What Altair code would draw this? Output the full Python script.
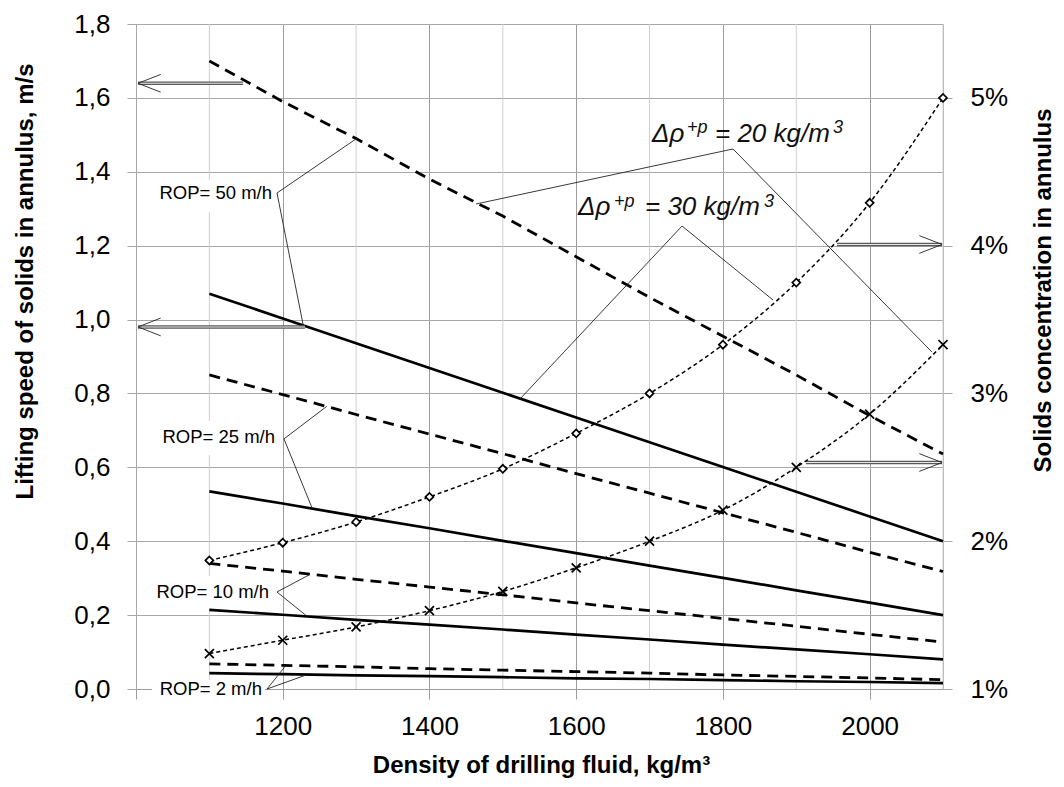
import altair as alt
import pandas as pd

# ---------------- data ----------------
density = [1100, 1200, 1300, 1400, 1500, 1600, 1700, 1800, 1900, 2000, 2100]

# lifting speed of solids in annulus, m/s  (dashed = Δρ 20 kg/m3, solid = Δρ 30 kg/m3)
speed_dashed_50 = [1.70, 1.59, 1.49, 1.38, 1.28, 1.17, 1.06, 0.955, 0.85, 0.74, 0.636]
speed_solid_50 = [1.07, 1.003, 0.936, 0.869, 0.802, 0.735, 0.668, 0.601, 0.534, 0.467, 0.40]
speed_dashed_25 = [0.85, 0.797, 0.743, 0.69, 0.637, 0.583, 0.53, 0.477, 0.424, 0.37, 0.318]
speed_solid_25 = [0.535, 0.502, 0.468, 0.435, 0.401, 0.368, 0.334, 0.301, 0.267, 0.234, 0.20]
speed_dashed_10 = [0.34, 0.319, 0.297, 0.276, 0.255, 0.233, 0.212, 0.191, 0.170, 0.148, 0.127]
speed_solid_10 = [0.214, 0.201, 0.187, 0.174, 0.161, 0.147, 0.134, 0.120, 0.107, 0.094, 0.080]
speed_dashed_2 = [0.068, 0.064, 0.060, 0.055, 0.051, 0.047, 0.043, 0.038, 0.034, 0.030, 0.025]
speed_solid_2 = [0.043, 0.040, 0.037, 0.035, 0.032, 0.029, 0.027, 0.024, 0.021, 0.019, 0.016]

# solids concentration in annulus, %
conc_20 = [1.24, 1.33, 1.42, 1.53, 1.66, 1.82, 2.00, 2.21, 2.50, 2.86, 3.33]
conc_30 = [1.87, 1.99, 2.13, 2.30, 2.49, 2.73, 3.00, 3.33, 3.75, 4.29, 5.00]

# tick values
x_major_values = [1000, 1200, 1400, 1600, 1800, 2000]
x_minor_values = [1100, 1300, 1500, 1700, 1900, 2100]
y_left_values = [0, 0.2, 0.4, 0.6, 0.8, 1.0, 1.2, 1.4, 1.6, 1.8]
y_right_values = [0.01, 0.02, 0.03, 0.04, 0.05]

# annotation texts
rop_labels = ["ROP= 50 m/h", "ROP= 25 m/h", "ROP= 10 m/h", "ROP= 2 m/h"]
drho_main = ["Δρ", "= 20 kg/m", "Δρ", "= 30 kg/m"]
drho_sup = ["+p", "3", "+p", "3"]

# annotation positions (data units: density, speed)
rop_label_x = [1185.4, 1189.5, 1181.3, 1171.7]
rop_label_y = [1.3426, 0.6821, 0.2626, 0.0]
box_x = [1019.1, 1023.2, 1016.4, 1021.8]
box_x2 = [1190.8, 1194.9, 1186.7, 1175.8]
box_y = [1.3778, 0.7254, 0.3059, 0.0244]
box_y2 = [1.2912, 0.6334, 0.2192, -0.0298]

leader_x = [1192.2, 1192.2, 1201.7, 1201.7, 1192.2, 1192.2, 1178.6, 1178.6,
            1813.8, 1813.8, 1744.3, 1744.3]
leader_y = [1.3426, 1.3426, 0.677, 0.677, 0.2626, 0.2626, 0.0, 0.0,
            1.4617, 1.4617, 1.2532, 1.2532]
leader_x2 = [1300, 1228, 1260, 1240, 1237, 1233, 1204, 1232,
             1463.5, 2085, 1523.4, 1868.3]
leader_y2 = [1.489, 0.984, 0.765, 0.490, 0.310, 0.197, 0.063, 0.038,
             1.3128, 0.912, 0.785, 1.0529]

drho_main_x = [1703.4, 1789.2, 1602.5, 1693.8]
drho_main_y = [1.4814, 1.4814, 1.2830, 1.2830]
drho_sup_x = [1751.1, 1950.1, 1651.6, 1856.0]
drho_sup_y = [1.5049, 1.5049, 1.3055, 1.3055]

arrow_x = [1145.9, 1230.4, 1955.6, 1913.3]
arrow_x2 = [1002.7, 1002.7, 2098.7, 2098.7]
arrow_y = [1.6395, 0.980, 1.2032, 0.613]
head_dx = [31, 31, -31, -31]

# ---------------- tables ----------------
def series(vals, rop):
    return pd.DataFrame({"density": density, "speed": vals, "rop": rop})

df_dashed = pd.concat([series(speed_dashed_50, 50), series(speed_dashed_25, 25),
                       series(speed_dashed_10, 10), series(speed_dashed_2, 2)])
df_solid = pd.concat([series(speed_solid_50, 50), series(speed_solid_25, 25),
                      series(speed_solid_10, 10), series(speed_solid_2, 2)])
df_c20 = pd.DataFrame({"density": density, "conc": [v / 100 for v in conc_20]})
df_c30 = pd.DataFrame({"density": density, "conc": [v / 100 for v in conc_30]})
df_minor = pd.DataFrame({"x": x_minor_values})

df_rop = pd.DataFrame({"x": rop_label_x, "y": rop_label_y, "label": rop_labels})
df_box = pd.DataFrame({"x": box_x, "x2": box_x2, "y": box_y, "y2": box_y2})
df_lead = pd.DataFrame({"x": leader_x, "y": leader_y, "x2": leader_x2, "y2": leader_y2})
df_dmain = pd.DataFrame({"x": drho_main_x, "y": drho_main_y, "label": drho_main})
df_dsup = pd.DataFrame({"x": drho_sup_x, "y": drho_sup_y, "label": drho_sup})
df_shaft = pd.DataFrame({"x": arrow_x, "x2": arrow_x2, "y": arrow_y})
head_rows = []
for tx, ty, dx in zip(arrow_x2, arrow_y, head_dx):
    head_rows.append({"x": tx, "y": ty, "x2": tx + dx, "y2": ty + 0.024})
    head_rows.append({"x": tx, "y": ty, "x2": tx + dx, "y2": ty - 0.024})
df_head = pd.DataFrame(head_rows)

# ---------------- scales & axes ----------------
FONT = "Liberation Sans"
GRID = "#a8a8a8"
GRID_X = "#9c9c9c"
GRID_MINOR = "#cfcfcf"

x_axis = alt.Axis(
    values=x_major_values,
    labelExpr="datum.value == 1000 ? '' : '' + datum.value",
    labelFlush=False, labelOverlap=False,
    labelFont=FONT, labelFontSize=26, labelColor="#000", labelPadding=14,
    grid=True, gridColor=GRID_X, gridWidth=1,
    tickColor=GRID_X, tickSize=10, tickWidth=1,
    domainColor=GRID_X, domainWidth=1,
    title="Density of drilling fluid, kg/m³",
    titleFont=FONT, titleFontSize=24, titleFontWeight="bold", titleColor="#000",
    titleX=405, titleY=83, titleAlign="center", titleBaseline="alphabetic",
)

y_axis = alt.Axis(
    values=y_left_values,
    labelExpr="replace(format(datum.value, '.1f'), '.', ',')",
    labelFont=FONT, labelFontSize=26, labelColor="#000", labelPadding=17,
    grid=True, gridColor=GRID, gridWidth=1,
    tickColor=GRID, tickSize=9, tickWidth=1,
    domainColor=GRID, domainWidth=1,
    title="Lifting speed of solids in annulus, m/s",
    titleFont=FONT, titleFontSize=24, titleFontWeight="bold", titleColor="#000",
    titleAngle=270, titleX=-104, titleY=257, titleAlign="center", titleBaseline="alphabetic",
)

y_axis_r = alt.Axis(
    orient="right",
    values=y_right_values, format=".0%",
    labelFont=FONT, labelFontSize=26, labelColor="#000", labelPadding=18,
    grid=False,
    tickColor=GRID, tickSize=9, tickWidth=1,
    domainColor=GRID, domainWidth=1,
    title="Solids concentration in annulus",
    titleFont=FONT, titleFontSize=24, titleFontWeight="bold", titleColor="#000",
    titleAngle=270, titleX=107, titleY=266, titleAlign="center", titleBaseline="alphabetic",
)


def xs():
    return alt.Scale(domain=[1000, 2100], nice=False, zero=False)


def ys():
    return alt.Scale(domain=[0, 1.8], nice=False, zero=True)


def ys_r():
    return alt.Scale(domain=[0.01, 0.055], nice=False, zero=False)


Xn = alt.X("x:Q", scale=xs(), axis=None)
Yn = alt.Y("y:Q", scale=ys(), axis=None)
Xd = alt.X("density:Q", scale=xs(), axis=None)

# ---------------- layers ----------------
minor_grid = alt.Chart(df_minor).mark_rule(color=GRID_MINOR, strokeWidth=1).encode(
    x=Xn, y=alt.value(0), y2=alt.value(665))

dashed = alt.Chart(df_dashed).mark_line(color="black", strokeWidth=2.8, strokeDash=[11, 7]).encode(
    x=alt.X("density:Q", scale=xs(), axis=x_axis),
    y=alt.Y("speed:Q", scale=ys(), axis=y_axis),
    detail="rop:N")
solid = alt.Chart(df_solid).mark_line(color="black", strokeWidth=2.7).encode(
    x=Xd, y=alt.Y("speed:Q", scale=ys(), axis=None), detail="rop:N")

boxes = alt.Chart(df_box).mark_rect(fill="white").encode(
    x=Xn, x2="x2:Q", y=Yn, y2="y2:Q")
leaders = alt.Chart(df_lead).mark_rule(color="#222", strokeWidth=0.9).encode(
    x=Xn, x2="x2:Q", y=Yn, y2="y2:Q")
shaft_outer = alt.Chart(df_shaft).mark_rule(color="#5a5a5a", strokeWidth=3.6).encode(
    x=Xn, x2="x2:Q", y=Yn)
shaft_inner = alt.Chart(df_shaft).mark_rule(color="#e6e6e6", strokeWidth=1.1).encode(
    x=Xn, x2="x2:Q", y=Yn)
heads = alt.Chart(df_head).mark_rule(color="#222", strokeWidth=0.9).encode(
    x=Xn, x2="x2:Q", y=Yn, y2="y2:Q")
rop_text = alt.Chart(df_rop).mark_text(align="right", baseline="middle", font=FONT,
                                       fontSize=18.5, color="#000").encode(
    x=Xn, y=Yn, text="label:N")
drho_text = alt.Chart(df_dmain).mark_text(align="left", baseline="alphabetic", font=FONT,
                                          fontSize=26, fontStyle="italic", color="#111").encode(
    x=Xn, y=Yn, text="label:N")
drho_sup_text = alt.Chart(df_dsup).mark_text(align="left", baseline="alphabetic", font=FONT,
                                             fontSize=18, fontStyle="italic", color="#111").encode(
    x=Xn, y=Yn, text="label:N")

c20_line = alt.Chart(df_c20).mark_line(color="black", strokeWidth=1.5, strokeDash=[4, 3],
                                       interpolate="monotone").encode(
    x=Xd, y=alt.Y("conc:Q", scale=ys_r(), axis=y_axis_r))
c30_line = alt.Chart(df_c30).mark_line(color="black", strokeWidth=1.5, strokeDash=[4, 3],
                                       interpolate="monotone").encode(
    x=Xd, y=alt.Y("conc:Q", scale=ys_r(), axis=None))
c20_pts = alt.Chart(df_c20).mark_point(shape="M-1,-1L1,1M1,-1L-1,1", size=81, filled=False,
                                       stroke="black", strokeWidth=1.7, opacity=1).encode(
    x=Xd, y=alt.Y("conc:Q", scale=ys_r(), axis=None))
c30_pts = alt.Chart(df_c30).mark_point(shape="diamond", size=64, filled=True, fill="white",
                                       stroke="black", strokeWidth=1.7, opacity=1).encode(
    x=Xd, y=alt.Y("conc:Q", scale=ys_r(), axis=None))

chart = alt.layer(
    minor_grid, dashed, boxes, solid, leaders, shaft_outer, shaft_inner, heads,
    rop_text, drho_text, drho_sup_text,
    c20_line, c30_line, c20_pts, c30_pts,
).resolve_scale(y="independent").resolve_axis(x="independent", y="independent").properties(
    width=807, height=665,
    autosize=alt.AutoSizeParams(type="none"),
    padding={"left": 128, "top": 16, "right": 113, "bottom": 90},
).configure_view(stroke=None)

chart.save("out.html", embed_options={"renderer": "svg", "actions": False})
